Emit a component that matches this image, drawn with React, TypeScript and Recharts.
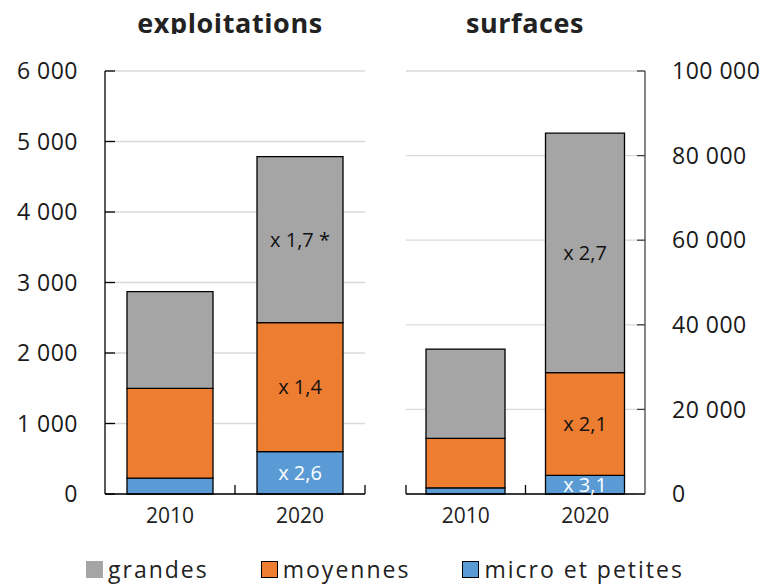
import { BarChart, Bar, XAxis, YAxis, CartesianGrid, LabelList } from "recharts";

const YEARS = ["2010", "2020"];

// exploitations (nombre)
const EXP_MICRO = [225, 600];
const EXP_MOY = [1274, 1830];
const EXP_GRANDES = [1371, 2355];
const EXP_LABELS_MICRO = ["", "x 2,6"];
const EXP_LABELS_MOY = ["", "x 1,4"];
const EXP_LABELS_GRANDES = ["", "x 1,7 *"];
const EXP_TICKS = [0, 1000, 2000, 3000, 4000, 5000, 6000];

// surfaces (ha)
const SURF_MICRO = [1450, 4400];
const SURF_MOY = [11700, 24300];
const SURF_GRANDES = [21100, 56600];
const SURF_LABELS_MICRO = ["", "x 3,1"];
const SURF_LABELS_MOY = ["", "x 2,1"];
const SURF_LABELS_GRANDES = ["", "x 2,7"];
const SURF_TICKS = [0, 20000, 40000, 60000, 80000, 100000];

const GREY = "#a5a5a5";
const ORANGE = "#ed7d31";
const BLUE = "#5b9bd5";
const FONT = "'Open Sans', sans-serif";
const TXT = "#1a1a1a";

const expData = YEARS.map((y, i) => ({
  year: y,
  micro: EXP_MICRO[i],
  moy: EXP_MOY[i],
  grandes: EXP_GRANDES[i],
  lMicro: EXP_LABELS_MICRO[i],
  lMoy: EXP_LABELS_MOY[i],
  lGrandes: EXP_LABELS_GRANDES[i],
}));

const surfData = YEARS.map((y, i) => ({
  year: y,
  micro: SURF_MICRO[i],
  moy: SURF_MOY[i],
  grandes: SURF_GRANDES[i],
  lMicro: SURF_LABELS_MICRO[i],
  lMoy: SURF_LABELS_MOY[i],
  lGrandes: SURF_LABELS_GRANDES[i],
}));

const fmt = (v: number) => String(v).replace(/\B(?=(\d{3})+(?!\d))/g, " ");

// left panel plot: x 105..365, right panel plot: x 406..645
const HALF_L = 260 / YEARS.length / 2;
const HALF_R = 239 / YEARS.length / 2;

const LeftYTick = ({ x, y, payload }: any) => (
  <g>
    <line x1={x + 27} x2={x + 37} y1={y} y2={y} stroke="#000" strokeWidth={1.3} />
    <text x={x} y={y} dy="0.36em" textAnchor="end" fontSize={23} letterSpacing={0.5} fill={TXT} fontFamily={FONT}>
      {fmt(payload.value)}
    </text>
  </g>
);

const RightYTick = ({ x, y, payload }: any) => (
  <g>
    <line x1={x - 27} x2={x - 35} y1={y} y2={y} stroke="#444" strokeWidth={1.3} />
    <text x={x} y={y} dy="0.36em" textAnchor="start" fontSize={23} letterSpacing={0.5} fill={TXT} fontFamily={FONT}>
      {fmt(payload.value)}
    </text>
  </g>
);

const makeXTick = (dx: number) => ({ x, y, payload }: any) => (
  <g>
    <line x1={x + dx} x2={x + dx} y1={y} y2={y - 9} stroke="#000" strokeWidth={1.3} />
    <text x={x} y={y + 29} textAnchor="middle" fontSize={21} fill="#222" fontFamily={FONT}>
      {payload.value}
    </text>
  </g>
);

const LeftXTick = makeXTick(HALF_L);
const RightXTick = makeXTick(-HALF_R);

const labelStyle = (fill: string) => ({
  fill,
  fontSize: 20,
  fontFamily: FONT,
});

const LEGEND = [
  { name: "grandes", color: GREY, border: false },
  { name: "moyennes", color: ORANGE, border: true },
  { name: "micro et petites", color: BLUE, border: true },
];

export default function App() {
  return (
    <div style={{ position: "absolute", left: 0, top: 0, width: 763, height: 584, background: "#fff", fontFamily: FONT }}>
      <svg width={763} height={40} style={{ position: "absolute", left: 0, top: 0 }}>
        <defs>
          <clipPath id="titleclip">
            <rect x={0} y={0} width={763} height={34} />
          </clipPath>
        </defs>
        <g clipPath="url(#titleclip)" fontFamily={FONT} fontWeight={700} fontSize={27} letterSpacing={0.6} fill="#222">
          <text x={230} y={33} textAnchor="middle">exploitations</text>
          <text x={525} y={33} textAnchor="middle">surfaces</text>
        </g>
      </svg>

      <div style={{ position: "absolute", left: 0, top: 0 }}>
        <BarChart
          width={390}
          height={540}
          data={expData}
          margin={{ top: 71, right: 25, bottom: 6, left: 5 }}
          barSize={86}
        >
          <CartesianGrid vertical={false} stroke="#d9d9d9" strokeWidth={1.3} />
          <XAxis
            dataKey="year"
            height={40}
            axisLine={{ stroke: "#000", strokeWidth: 1.3 }}
            tickLine={false}
            tickSize={0}
            tickMargin={0}
            tick={<LeftXTick />}
          />
          <YAxis
            width={100}
            domain={[0, 6000]}
            ticks={EXP_TICKS}
            axisLine={{ stroke: "#000", strokeWidth: 1.3 }}
            tickLine={false}
            tickSize={0}
            tickMargin={27}
            tick={<LeftYTick />}
            interval={0}
          />
          <Bar dataKey="micro" stackId="a" fill={BLUE} stroke="#000" strokeWidth={1.3} isAnimationActive={false}>
            <LabelList dataKey="lMicro" position="center" style={labelStyle("#fff")} />
          </Bar>
          <Bar dataKey="moy" stackId="a" fill={ORANGE} stroke="#000" strokeWidth={1.3} isAnimationActive={false}>
            <LabelList dataKey="lMoy" position="center" style={labelStyle("#111")} />
          </Bar>
          <Bar dataKey="grandes" stackId="a" fill={GREY} stroke="#000" strokeWidth={1.3} isAnimationActive={false}>
            <LabelList dataKey="lGrandes" position="center" style={labelStyle("#111")} />
          </Bar>
        </BarChart>
      </div>

      <div style={{ position: "absolute", left: 380, top: 0 }}>
        <BarChart
          width={383}
          height={540}
          data={surfData}
          margin={{ top: 71, right: 18, bottom: 6, left: 26 }}
          barSize={79}
        >
          <CartesianGrid vertical={false} stroke="#d9d9d9" strokeWidth={1.3} />
          <XAxis
            dataKey="year"
            height={40}
            axisLine={{ stroke: "#000", strokeWidth: 1.3 }}
            tickLine={false}
            tickSize={0}
            tickMargin={0}
            tick={<RightXTick />}
          />
          <YAxis
            orientation="right"
            width={100}
            domain={[0, 100000]}
            ticks={SURF_TICKS}
            axisLine={{ stroke: "#444", strokeWidth: 1.3 }}
            tickLine={false}
            tickSize={0}
            tickMargin={27}
            tick={<RightYTick />}
            interval={0}
          />
          <Bar dataKey="micro" stackId="a" fill={BLUE} stroke="#000" strokeWidth={1.3} isAnimationActive={false}>
            <LabelList dataKey="lMicro" position="center" style={labelStyle("#fff")} />
          </Bar>
          <Bar dataKey="moy" stackId="a" fill={ORANGE} stroke="#000" strokeWidth={1.3} isAnimationActive={false}>
            <LabelList dataKey="lMoy" position="center" style={labelStyle("#111")} />
          </Bar>
          <Bar dataKey="grandes" stackId="a" fill={GREY} stroke="#000" strokeWidth={1.3} isAnimationActive={false}>
            <LabelList dataKey="lGrandes" position="center" style={labelStyle("#111")} />
          </Bar>
        </BarChart>
      </div>

      <div
        style={{
          position: "absolute",
          left: 86,
          top: 555,
          display: "flex",
          alignItems: "center",
          fontSize: 23,
          letterSpacing: 2,
          color: "#222",
          lineHeight: "28px",
        }}
      >
        {LEGEND.map((l, i) => (
          <div key={l.name} style={{ display: "flex", alignItems: "center", marginRight: i < LEGEND.length - 1 ? 52 : 0 }}>
            <span
              style={{
                display: "inline-block",
                width: l.border ? 15 : 17,
                height: l.border ? 15 : 17,
                background: l.color,
                border: l.border ? "1px solid #000" : "none",
                marginRight: 5,
              }}
            />
            <span>{l.name}</span>
          </div>
        ))}
      </div>
    </div>
  );
}
